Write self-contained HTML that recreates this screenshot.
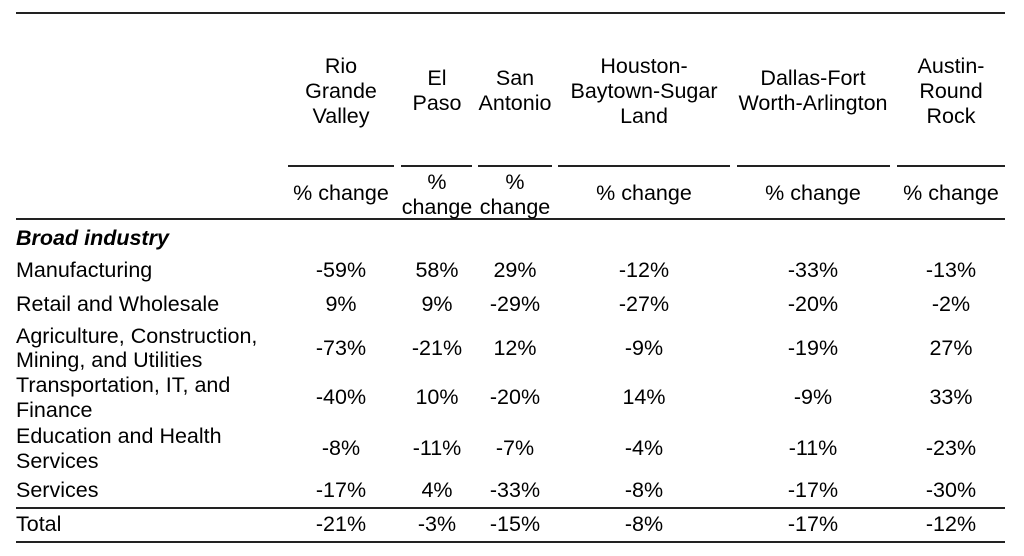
<!DOCTYPE html>
<html><head><meta charset="utf-8"><style>
body{margin:0;width:1024px;height:556px;background:#fff;position:relative;font-family:"Liberation Sans",Arial,sans-serif;font-size:21.5px;color:#000;overflow:hidden}
.t{position:absolute;line-height:22px;white-space:nowrap}
.c{transform:translateX(-50%);text-align:center}
.l{position:absolute;background:#222;height:2px}
</style></head><body>
<div class="l" style="left:16px;top:12px;width:989px"></div>
<div class="l" style="left:288px;top:165px;width:106px"></div>
<div class="l" style="left:401px;top:165px;width:71px"></div>
<div class="l" style="left:478px;top:165px;width:74px"></div>
<div class="l" style="left:558px;top:165px;width:172px"></div>
<div class="l" style="left:737px;top:165px;width:153px"></div>
<div class="l" style="left:897px;top:165px;width:108px"></div>
<div class="l" style="left:16px;top:218px;width:989px"></div>
<div class="l" style="left:16px;top:507px;width:989px;height:1.5px"></div>
<div class="l" style="left:16px;top:541px;width:989px"></div>

<div class="t c" style="left:341px;top:54px;line-height:25px">Rio<br>Grande<br>Valley</div>
<div class="t c" style="left:437px;top:66px;line-height:25px">El<br>Paso</div>
<div class="t c" style="left:515px;top:66px;line-height:25px">San<br>Antonio</div>
<div class="t c" style="left:644px;top:54px;line-height:25px">Houston-<br>Baytown-Sugar<br>Land</div>
<div class="t c" style="left:813px;top:66px;line-height:25px">Dallas-Fort<br>Worth-Arlington</div>
<div class="t c" style="left:951px;top:54px;line-height:25px">Austin-<br>Round<br>Rock</div>

<div class="t c" style="left:341px;top:182px">% change</div>
<div class="t c" style="left:437px;top:170px;line-height:25px">%<br>change</div>
<div class="t c" style="left:515px;top:170px;line-height:25px">%<br>change</div>
<div class="t c" style="left:644px;top:182px">% change</div>
<div class="t c" style="left:813px;top:182px">% change</div>
<div class="t c" style="left:951px;top:182px">% change</div>

<div class="t" style="left:16px;top:227px;font-weight:bold;font-style:italic">Broad industry</div>
<div class="t" style="left:16px;top:259px">Manufacturing</div>
<div class="t" style="left:16px;top:293px">Retail and Wholesale</div>
<div class="t" style="left:16px;top:324px;line-height:24px">Agriculture, Construction,<br>Mining, and Utilities</div>
<div class="t" style="left:16px;top:373px;line-height:25px">Transportation, IT, and<br>Finance</div>
<div class="t" style="left:16px;top:424px;line-height:25px">Education and Health<br>Services</div>
<div class="t" style="left:16px;top:479px">Services</div>
<div class="t" style="left:16px;top:513px">Total</div>

<div class="t c" style="left:341px;top:259px">-59%</div><div class="t c" style="left:437px;top:259px">58%</div><div class="t c" style="left:515px;top:259px">29%</div><div class="t c" style="left:644px;top:259px">-12%</div><div class="t c" style="left:813px;top:259px">-33%</div><div class="t c" style="left:951px;top:259px">-13%</div>
<div class="t c" style="left:341px;top:293px">9%</div><div class="t c" style="left:437px;top:293px">9%</div><div class="t c" style="left:515px;top:293px">-29%</div><div class="t c" style="left:644px;top:293px">-27%</div><div class="t c" style="left:813px;top:293px">-20%</div><div class="t c" style="left:951px;top:293px">-2%</div>
<div class="t c" style="left:341px;top:337px">-73%</div><div class="t c" style="left:437px;top:337px">-21%</div><div class="t c" style="left:515px;top:337px">12%</div><div class="t c" style="left:644px;top:337px">-9%</div><div class="t c" style="left:813px;top:337px">-19%</div><div class="t c" style="left:951px;top:337px">27%</div>
<div class="t c" style="left:341px;top:386px">-40%</div><div class="t c" style="left:437px;top:386px">10%</div><div class="t c" style="left:515px;top:386px">-20%</div><div class="t c" style="left:644px;top:386px">14%</div><div class="t c" style="left:813px;top:386px">-9%</div><div class="t c" style="left:951px;top:386px">33%</div>
<div class="t c" style="left:341px;top:437px">-8%</div><div class="t c" style="left:437px;top:437px">-11%</div><div class="t c" style="left:515px;top:437px">-7%</div><div class="t c" style="left:644px;top:437px">-4%</div><div class="t c" style="left:813px;top:437px">-11%</div><div class="t c" style="left:951px;top:437px">-23%</div>
<div class="t c" style="left:341px;top:479px">-17%</div><div class="t c" style="left:437px;top:479px">4%</div><div class="t c" style="left:515px;top:479px">-33%</div><div class="t c" style="left:644px;top:479px">-8%</div><div class="t c" style="left:813px;top:479px">-17%</div><div class="t c" style="left:951px;top:479px">-30%</div>
<div class="t c" style="left:341px;top:513px">-21%</div><div class="t c" style="left:437px;top:513px">-3%</div><div class="t c" style="left:515px;top:513px">-15%</div><div class="t c" style="left:644px;top:513px">-8%</div><div class="t c" style="left:813px;top:513px">-17%</div><div class="t c" style="left:951px;top:513px">-12%</div>
</body></html>
